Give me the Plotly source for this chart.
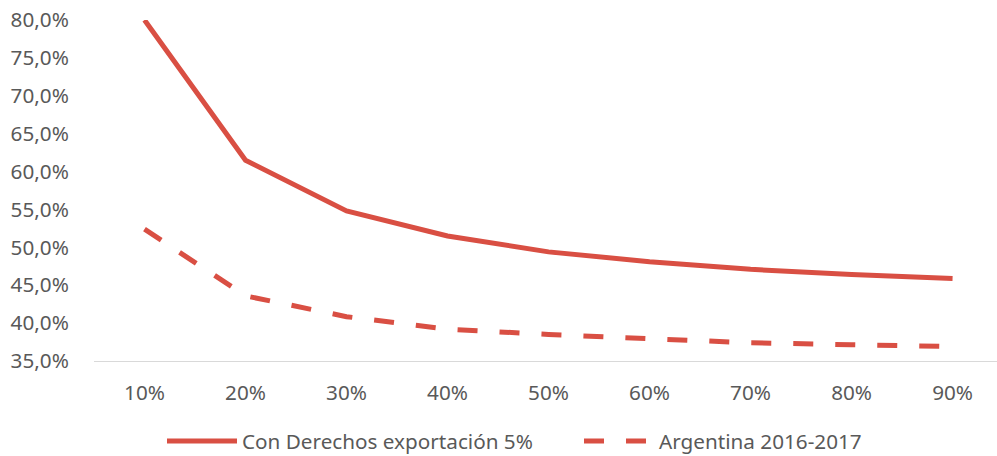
import plotly.graph_objects as go

categories = ["10%", "20%", "30%", "40%", "50%", "60%", "70%", "80%", "90%"]
con_derechos = [80.0, 61.5, 54.8, 51.5, 49.4, 48.1, 47.1, 46.4, 45.9]
argentina = [52.4, 43.6, 40.85, 39.2, 38.5, 38.0, 37.4, 37.15, 36.9]
y_tick_vals = [35, 40, 45, 50, 55, 60, 65, 70, 75, 80]
y_tick_text = ["35,0%", "40,0%", "45,0%", "50,0%", "55,0%", "60,0%", "65,0%", "70,0%", "75,0%", "80,0%"]

RED = "#D94F43"
FONT = "Noto Sans"
TXT = "#595959"
FS = 20.7

fig = go.Figure()
fig.add_trace(go.Scatter(
    x=categories, y=con_derechos, mode="lines",
    name="Con Derechos exportación 5%",
    line=dict(color=RED, width=5),
))
fig.add_trace(go.Scatter(
    x=categories, y=argentina, mode="lines",
    name="Argentina 2016-2017",
    line=dict(color=RED, width=5, dash="20px,22px"),
))

fig.update_layout(
    width=997, height=456,
    margin=dict(l=93.5, r=0, t=20, b=95, pad=0),
    paper_bgcolor="white", plot_bgcolor="white",
    font=dict(family=FONT, size=FS, color=TXT),
    showlegend=True,
    legend=dict(orientation="h", xref="container", yref="container",
                x=162 / 997, xanchor="left", y=1 - 441 / 456, yanchor="middle",
                font=dict(family=FONT, size=FS, color=TXT),
                itemwidth=70, entrywidth=332, traceorder="normal",
                bgcolor="rgba(0,0,0,0)"),
    xaxis=dict(
        type="category", range=[-0.5, 8.44],
        showgrid=False, zeroline=False,
        showline=True, linecolor="#D9D9D9", linewidth=1,
        ticks="outside", ticklen=13, tickcolor="rgba(0,0,0,0)",
        tickfont=dict(family=FONT, size=FS, color=TXT),
    ),
    yaxis=dict(
        range=[35, 80], tickvals=y_tick_vals, ticktext=y_tick_text,
        showgrid=False, zeroline=False, showline=False,
        ticks="outside", ticklen=20, tickcolor="rgba(0,0,0,0)",
        tickfont=dict(family=FONT, size=FS, color=TXT),
    ),
)

fig.write_html("out.html")
